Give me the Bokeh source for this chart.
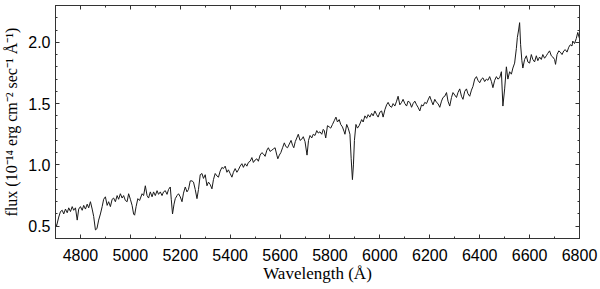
from bokeh.plotting import figure
from bokeh.models import LinearAxis, SingleIntervalTicker, CustomJSTickFormatter, Range1d, PrintfTickFormatter
from bokeh.embed import file_html
from bokeh.resources import INLINE

wavelength = [4700, 4704, 4713, 4720, 4727, 4733, 4740, 4747, 4753, 4760, 4767, 4773, 4780, 4787, 4793,
              4800, 4807, 4813, 4820, 4827, 4833, 4840, 4847, 4853, 4860, 4866, 4873, 4880, 4887, 4893,
              4900, 4907, 4913, 4920, 4927, 4933, 4940, 4947, 4953, 4960, 4967, 4973, 4980, 4987, 4993,
              5000, 5007, 5013, 5017, 5023, 5030, 5037, 5047, 5053, 5060, 5067, 5073, 5080, 5087, 5093,
              5100, 5107, 5113, 5120, 5127, 5133, 5140, 5147, 5153, 5160, 5164, 5169, 5175, 5180, 5187, 5193,
              5200, 5207, 5213, 5220, 5227, 5233, 5240, 5247, 5253, 5260, 5267, 5273, 5280, 5287, 5293,
              5300, 5307, 5313, 5320, 5327, 5333, 5340, 5347, 5353, 5360, 5367, 5373, 5380, 5387, 5393,
              5400, 5407, 5413, 5420, 5427, 5433, 5440, 5447, 5453, 5460, 5467, 5473, 5480, 5487, 5493,
              5500, 5507, 5513, 5520, 5527, 5533, 5540, 5547, 5553, 5560, 5567, 5573, 5580, 5587, 5591, 5597,
              5603, 5610, 5617, 5623, 5630, 5637, 5644, 5650, 5655, 5661, 5667, 5673, 5680, 5687, 5693,
              5700, 5708, 5714, 5720, 5727, 5733, 5740, 5747, 5753, 5760, 5767, 5773, 5777, 5783, 5790, 5797,
              5803, 5810, 5817, 5824, 5830, 5837, 5843, 5850, 5857, 5860, 5867, 5873, 5880, 5885, 5890, 5894, 5898,
              5904, 5910, 5917, 5923, 5927, 5933, 5940, 5947, 5953, 5960, 5967, 5973, 5980, 5987, 5993,
              6000, 6007, 6013, 6020, 6027, 6033, 6040, 6047, 6053, 6060, 6067, 6073, 6080, 6087, 6093,
              6100, 6107, 6113, 6120, 6127, 6133, 6140, 6147, 6153, 6160, 6167, 6173, 6180, 6187, 6193,
              6200, 6207, 6213, 6220, 6227, 6233, 6240, 6247, 6253, 6260, 6267, 6273, 6280, 6287, 6293,
              6300, 6307, 6313, 6320, 6327, 6333, 6340, 6347, 6353, 6360, 6367, 6373, 6380, 6387, 6393,
              6400, 6407, 6413, 6420, 6427, 6433, 6440, 6447, 6453, 6460, 6467, 6473, 6480, 6487, 6493,
              6500, 6507, 6513, 6520, 6527, 6533, 6540, 6547, 6551, 6556, 6560, 6564, 6569, 6573, 6580, 6587, 6593,
              6600, 6607, 6613, 6620, 6627, 6633, 6640, 6647, 6653, 6660, 6667, 6673, 6680, 6687, 6693,
              6700, 6704, 6710, 6717, 6723, 6730, 6737, 6743, 6750, 6757, 6763, 6770, 6773, 6780, 6787, 6793, 6800]

flux = [0.52, 0.50, 0.575, 0.62, 0.63, 0.60, 0.64, 0.61, 0.65, 0.62, 0.66, 0.63, 0.65, 0.55, 0.64,
        0.66, 0.63, 0.67, 0.64, 0.68, 0.65, 0.70, 0.64, 0.58, 0.47, 0.48, 0.55, 0.60, 0.66, 0.72,
        0.74, 0.67, 0.70, 0.66, 0.72, 0.73, 0.70, 0.75, 0.72, 0.765, 0.73, 0.75, 0.71, 0.70, 0.765,
        0.72, 0.67, 0.60, 0.59, 0.66, 0.725, 0.71, 0.765, 0.75, 0.83, 0.75, 0.73, 0.78, 0.74, 0.78,
        0.75, 0.79, 0.76, 0.78, 0.75, 0.78, 0.79, 0.76, 0.80, 0.82, 0.72, 0.60, 0.68, 0.725, 0.75, 0.765,
        0.74, 0.70, 0.77, 0.82, 0.78, 0.80, 0.87, 0.87, 0.86, 0.80, 0.725, 0.80, 0.92, 0.93, 0.89,
        0.92, 0.83, 0.86, 0.84, 0.805, 0.88, 0.93, 0.91, 0.90, 0.95, 0.98, 0.97, 0.99, 0.94, 0.96,
        0.93, 0.90, 0.94, 0.97, 0.94, 0.96, 0.99, 1.01, 0.98, 1.01, 0.99, 1.02, 1.03, 1.06, 1.02,
        1.04, 1.05, 1.03, 1.08, 1.10, 1.09, 1.07, 1.12, 1.14, 1.11, 1.12, 1.13, 1.14, 1.08, 1.05, 1.08,
        1.10, 1.14, 1.18, 1.15, 1.14, 1.17, 1.20, 1.16, 1.14, 1.19, 1.22, 1.25, 1.20, 1.21, 1.23,
        1.19, 1.08, 1.20, 1.24, 1.22, 1.25, 1.24, 1.28, 1.26, 1.27, 1.25, 1.29, 1.28, 1.22, 1.32, 1.31,
        1.30, 1.33, 1.36, 1.39, 1.35, 1.37, 1.33, 1.31, 1.27, 1.25, 1.33, 1.30, 1.25, 1.05, 0.88, 1.00, 1.20,
        1.33, 1.30, 1.32, 1.35, 1.37, 1.35, 1.40, 1.38, 1.41, 1.39, 1.42, 1.40, 1.44, 1.41, 1.39,
        1.43, 1.44, 1.39, 1.45, 1.49, 1.51, 1.48, 1.47, 1.50, 1.48, 1.52, 1.56, 1.49, 1.51, 1.535,
        1.50, 1.48, 1.52, 1.51, 1.47, 1.50, 1.52, 1.49, 1.47, 1.44, 1.49, 1.48, 1.51, 1.50, 1.53,
        1.56, 1.52, 1.49, 1.535, 1.51, 1.50, 1.47, 1.52, 1.55, 1.56, 1.59, 1.52, 1.48, 1.55, 1.59,
        1.57, 1.55, 1.59, 1.62, 1.56, 1.535, 1.60, 1.62, 1.58, 1.56, 1.61, 1.64, 1.70, 1.72, 1.69,
        1.67, 1.70, 1.71, 1.68, 1.70, 1.69, 1.72, 1.68, 1.63, 1.69, 1.72, 1.70, 1.71, 1.76, 1.48,
        1.62, 1.80, 1.70, 1.76, 1.74, 1.79, 1.83, 1.95, 2.04, 2.10, 2.16, 1.98, 1.85, 1.79, 1.86, 1.89, 1.84,
        1.83, 1.90, 1.86, 1.84, 1.89, 1.85, 1.88, 1.86, 1.90, 1.87, 1.89, 1.91, 1.93, 1.89, 1.88,
        1.86, 1.82, 1.90, 1.93, 1.92, 1.90, 1.93, 1.94, 1.92, 1.96, 1.98, 1.97, 2.01, 1.99, 2.03, 2.08, 2.03]

x_tick_step = 200
y_tick_step = 0.5

TICK_FONT = "Liberation Sans Narrow, Liberation Sans"
LABEL_FONT = "Liberation Serif"
FRAME = "#333333"

p = figure(width=600, height=289, output_backend="svg", toolbar_location=None,
           x_range=Range1d(4700, 6800), y_range=Range1d(0.4, 2.3),
           min_border_left=55, min_border_right=21, min_border_top=5, min_border_bottom=51,
           x_axis_label="Wavelength (Å)",
           y_axis_label="flux (10⁻¹⁴ erg cm⁻² sec⁻¹ Å⁻¹)")
p.grid.visible = False
p.outline_line_color = FRAME
p.outline_line_width = 1
p.background_fill_color = "white"
p.border_fill_color = "white"

p.line(wavelength, flux, line_color="#1a1a1a", line_width=1.0)


def style(ax, labels=True):
    ax.axis_line_color = FRAME
    ax.major_tick_line_color = FRAME
    ax.minor_tick_line_color = FRAME
    ax.major_tick_in = 4
    ax.major_tick_out = 0
    ax.minor_tick_in = 2
    ax.minor_tick_out = 0
    if labels:
        ax.major_label_text_font = TICK_FONT
        ax.major_label_text_font_size = "16px"
        ax.major_label_text_color = "black"
        ax.axis_label_text_font = LABEL_FONT
        ax.axis_label_text_font_size = "17px"
        ax.axis_label_text_font_style = "normal"
        ax.axis_label_text_color = "black"
    else:
        ax.formatter = CustomJSTickFormatter(code="return ''")
        ax.major_label_text_font_size = "0px"
        ax.major_label_standoff = 0
        ax.axis_label_standoff = 0


p.xaxis.ticker = SingleIntervalTicker(interval=x_tick_step, num_minor_ticks=2)
p.yaxis.ticker = SingleIntervalTicker(interval=y_tick_step, num_minor_ticks=5)
p.yaxis.formatter = PrintfTickFormatter(format="%.1f")
style(p.xaxis[0])
style(p.yaxis[0])
p.yaxis.axis_label_text_font_size = "16px"
p.xaxis.major_label_standoff = 10
p.xaxis.axis_label_standoff = 0
p.yaxis.major_label_standoff = 5
p.yaxis.axis_label_standoff = 5

top = LinearAxis(ticker=SingleIntervalTicker(interval=x_tick_step, num_minor_ticks=2))
right = LinearAxis(ticker=SingleIntervalTicker(interval=y_tick_step, num_minor_ticks=5))
style(top, labels=False)
style(right, labels=False)
p.add_layout(top, "above")
p.add_layout(right, "right")

open("out.html", "w").write(file_html(p, INLINE))
